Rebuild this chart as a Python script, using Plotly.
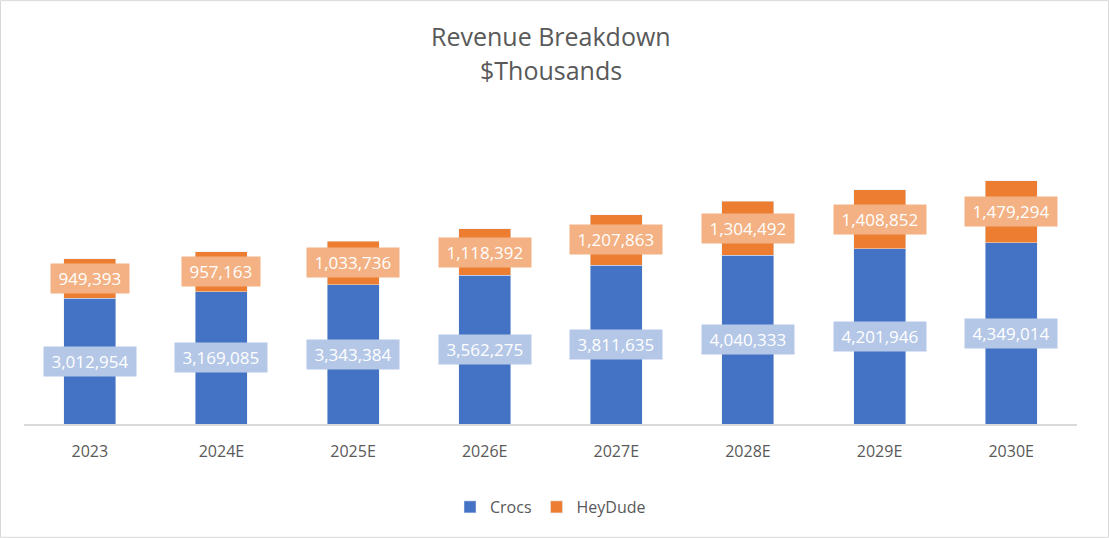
import plotly.graph_objects as go

years = ["2023", "2024E", "2025E", "2026E", "2027E", "2028E", "2029E", "2030E"]
crocs = [3012954, 3169085, 3343384, 3562275, 3811635, 4040333, 4201946, 4349014]
heydude = [949393, 957163, 1033736, 1118392, 1207863, 1304492, 1408852, 1479294]

BLUE = "#4472C4"
ORANGE = "#ED7D31"
BLUE_LBL = "#B4C7E7"
ORANGE_LBL = "#F4B183"
FONT = "Open Sans"

fig = go.Figure()
fig.add_trace(go.Bar(name="Crocs", x=years, y=crocs, marker_color=BLUE,
                     width=0.395, hoverinfo="skip"))
fig.add_trace(go.Bar(name="HeyDude", x=years, y=heydude, marker_color=ORANGE,
                     width=0.395, hoverinfo="skip"))

annotations = []
for i, (c, h) in enumerate(zip(crocs, heydude)):
    annotations.append(dict(x=i, y=c / 2, xref="x", yref="y", text=f"&nbsp;{c:,}&nbsp;",
                            showarrow=False, bgcolor=BLUE_LBL, borderpad=3,
                            font=dict(family=FONT, size=17, color="white")))
    annotations.append(dict(x=i, y=c + h / 2, xref="x", yref="y", text=f"&nbsp;{h:,}&nbsp;",
                            showarrow=False, bgcolor=ORANGE_LBL, borderpad=3,
                            font=dict(family=FONT, size=17, color="white")))

annotations.append(dict(text="Revenue Breakdown", xref="paper", yref="paper",
                        x=0.5, y=1 + (100 - 36) / 324.5, showarrow=False,
                        xanchor="center", yanchor="middle",
                        font=dict(family=FONT, size=25, color="#595959")))
annotations.append(dict(text="$Thousands", xref="paper", yref="paper",
                        x=0.5, y=1 + (100 - 70) / 324.5, showarrow=False,
                        xanchor="center", yanchor="middle",
                        font=dict(family=FONT, size=25, color="#595959")))

fig.update_layout(
    width=1109, height=538,
    barmode="stack",
    paper_bgcolor="white", plot_bgcolor="white",
    margin=dict(l=24, r=32, t=100, b=538 - 424),
    xaxis=dict(type="category", range=[-0.5, len(years) - 0.5], showline=True,
               linecolor="#D9D9D9", linewidth=1.5, ticks="", ticklabelstandoff=12,
               tickfont=dict(family=FONT, size=16, color="#595959"), showgrid=False),
    yaxis=dict(visible=False, range=[0, 324.5 / 41.78 * 1e6], showgrid=False),
    legend=dict(orientation="h", x=0.5, xanchor="center", yref="container",
                y=31 / 538, yanchor="middle", traceorder="normal", itemwidth=30,
                font=dict(family=FONT, size=16, color="#595959")),
    annotations=annotations,
    showlegend=True,
)
fig.add_shape(type="rect", xref="paper", yref="paper",
              x0=-23.5 / 1053, x1=1 + 31.5 / 1053, y0=-113.5 / 324.5, y1=1 + 99.5 / 324.5,
              line=dict(color="#D9D9D9", width=1), fillcolor="rgba(0,0,0,0)", layer="below")

fig.write_html("out.html", config={"displayModeBar": False},
               post_script="document.body.style.margin='0';document.body.style.overflow='hidden';")
